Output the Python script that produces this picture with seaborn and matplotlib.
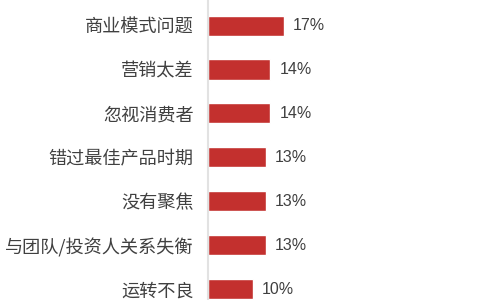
import matplotlib
matplotlib.use("Agg")
import matplotlib.pyplot as plt
import seaborn as sns
import pandas as pd

categories = ["商业模式问题", "营销太差", "忽视消费者", "错过最佳产品时期",
              "没有聚焦", "与团队/投资人关系失衡", "运转不良"]
values = [17, 14, 14, 13, 13, 13, 10]
value_labels = ["17%", "14%", "14%", "13%", "13%", "13%", "10%"]

df = pd.DataFrame({"reason": categories, "pct": values})

sns.set_theme(style="white")
plt.rcParams['font.family'] = ['Noto Sans CJK SC', 'DejaVu Sans']

fig = plt.figure(figsize=(4.8, 3.0), dpi=100)
ax = fig.add_axes([208 / 480, 0, 272 / 480, 1])

sns.barplot(data=df, x="pct", y="reason", orient="h", color="#C3302E",
            saturation=1, width=0.455, ax=ax)

ax.set_xlim(0, 61)
ax.set_ylim(6.24, -0.58)
ax.set_xlabel("")
ax.set_ylabel("")
ax.set_xticks([])
ax.tick_params(axis="y", length=0, pad=10.5, labelsize=13.1, labelcolor="#404040")
for s in ["top", "right", "bottom"]:
    ax.spines[s].set_visible(False)
ax.spines["left"].set_color("#e2e2e2")
ax.spines["left"].set_linewidth(1.5)

for i, (v, lab) in enumerate(zip(values, value_labels)):
    ax.text(v + 2.0, i, lab, va="center", ha="left", fontsize=11.5,
            color="#404040", family=["Liberation Sans Narrow", "Liberation Sans"])

fig.savefig("out.png", dpi=100)
